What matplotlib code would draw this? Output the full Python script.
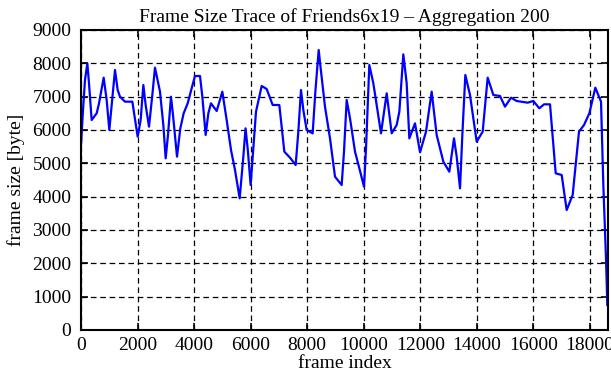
import matplotlib
matplotlib.use("Agg")
import matplotlib.pyplot as plt

# frame index / frame size
frames = [0, 71, 141, 224, 283, 377, 554, 637, 802, 908, 1002, 1085, 1203, 1297,
          1379, 1556, 1816, 2004, 2110, 2205, 2287, 2405, 2523, 2617, 2794, 2912,
          2995, 3077, 3183, 3254, 3396, 3513, 3631, 3773, 3914, 4032, 4209, 4292,
          4409, 4504, 4598, 4799, 4999, 5152, 5306, 5447, 5612, 5742, 5820, 5900,
          6000, 6190, 6390, 6567, 6780, 7015, 7192, 7392, 7593, 7687, 7781, 7864,
          7982, 8194, 8289, 8407, 8477, 8630, 8807, 8984, 9220, 9302, 9397, 9515,
          9692, 9845, 10010, 10081, 10198, 10340, 10458, 10611, 10812, 10989,
          11165, 11260, 11401, 11519, 11613, 11814, 11991, 12203, 12403, 12580,
          12816, 13028, 13193, 13288, 13406, 13488, 13594, 13759, 13995, 14207,
          14384, 14585, 14820, 14997, 15209, 15410, 15799, 15999, 16211, 16377,
          16589, 16790, 17002, 17178, 17390, 17614, 17791, 17980, 18192, 18393,
          18475, 18569, 18616]
sizes = [5550, 6600, 7500, 8000, 7400, 6300, 6500, 6800, 7570, 6900, 6000, 6750,
         7800, 7200, 7000, 6850, 6850, 5800, 6300, 7350, 6750, 6100, 7050, 7870,
         7150, 6150, 5150, 5850, 7000, 6450, 5200, 6050, 6500, 6800, 7250, 7620,
         7620, 7000, 5850, 6500, 6800, 6570, 7150, 6300, 5400, 4800, 3950, 5200,
         6050, 5400, 4350, 6550, 7320, 7230, 6750, 6750, 5350, 5170, 4950, 5950,
         7200, 6600, 6000, 5900, 7150, 8400, 7850, 6700, 5750, 4600, 4350, 5350,
         6900, 6350, 5350, 4850, 4300, 5450, 7950, 7400, 6750, 5900, 7100, 5900,
         6150, 6550, 8270, 7400, 5750, 6200, 5330, 5950, 7150, 5850, 5050, 4750,
         5750, 5200, 4250, 5850, 7650, 7050, 5650, 5950, 7570, 7050, 7020, 6700,
         6970, 6870, 6820, 6870, 6650, 6770, 6770, 4700, 4650, 3600, 4050, 5950,
         6150, 6500, 7270, 6850, 4350, 2150, 750]

xticks = list(range(0, 18001, 2000))
yticks = list(range(0, 9001, 1000))

plt.rcParams['font.family'] = ['Liberation Serif', 'DejaVu Serif']
plt.rcParams['font.size'] = 14

fig = plt.figure(figsize=(6.11, 3.80), dpi=100)
ax = fig.add_axes([81/611, 50/380, 527/611, 300/380])

ax.plot(frames, sizes, color='#0000ff', lw=1.6)

ax.set_xlim(0, 18640)
ax.set_ylim(0, 9000)
ax.set_xticks(xticks)
ax.set_yticks(yticks)
ax.grid(True, color='black', linestyle=(0, (4.5, 3)), linewidth=0.9)

ax.tick_params(direction='in', length=5, width=1.2, top=True, right=True,
               labelsize=14)
ax.tick_params(axis='y', pad=7)
ax.tick_params(axis='x', pad=5)
for s in ax.spines.values():
    s.set_linewidth(1.5)

ax.set_title("Frame Size Trace of Friends6x19 \u2013 Aggregation 200",
             fontsize=14, pad=6)
ax.set_xlabel("frame index", fontsize=14, labelpad=1)
ax.set_ylabel("frame size [byte]", fontsize=14, labelpad=5)

fig.savefig("out.png", dpi=100)
